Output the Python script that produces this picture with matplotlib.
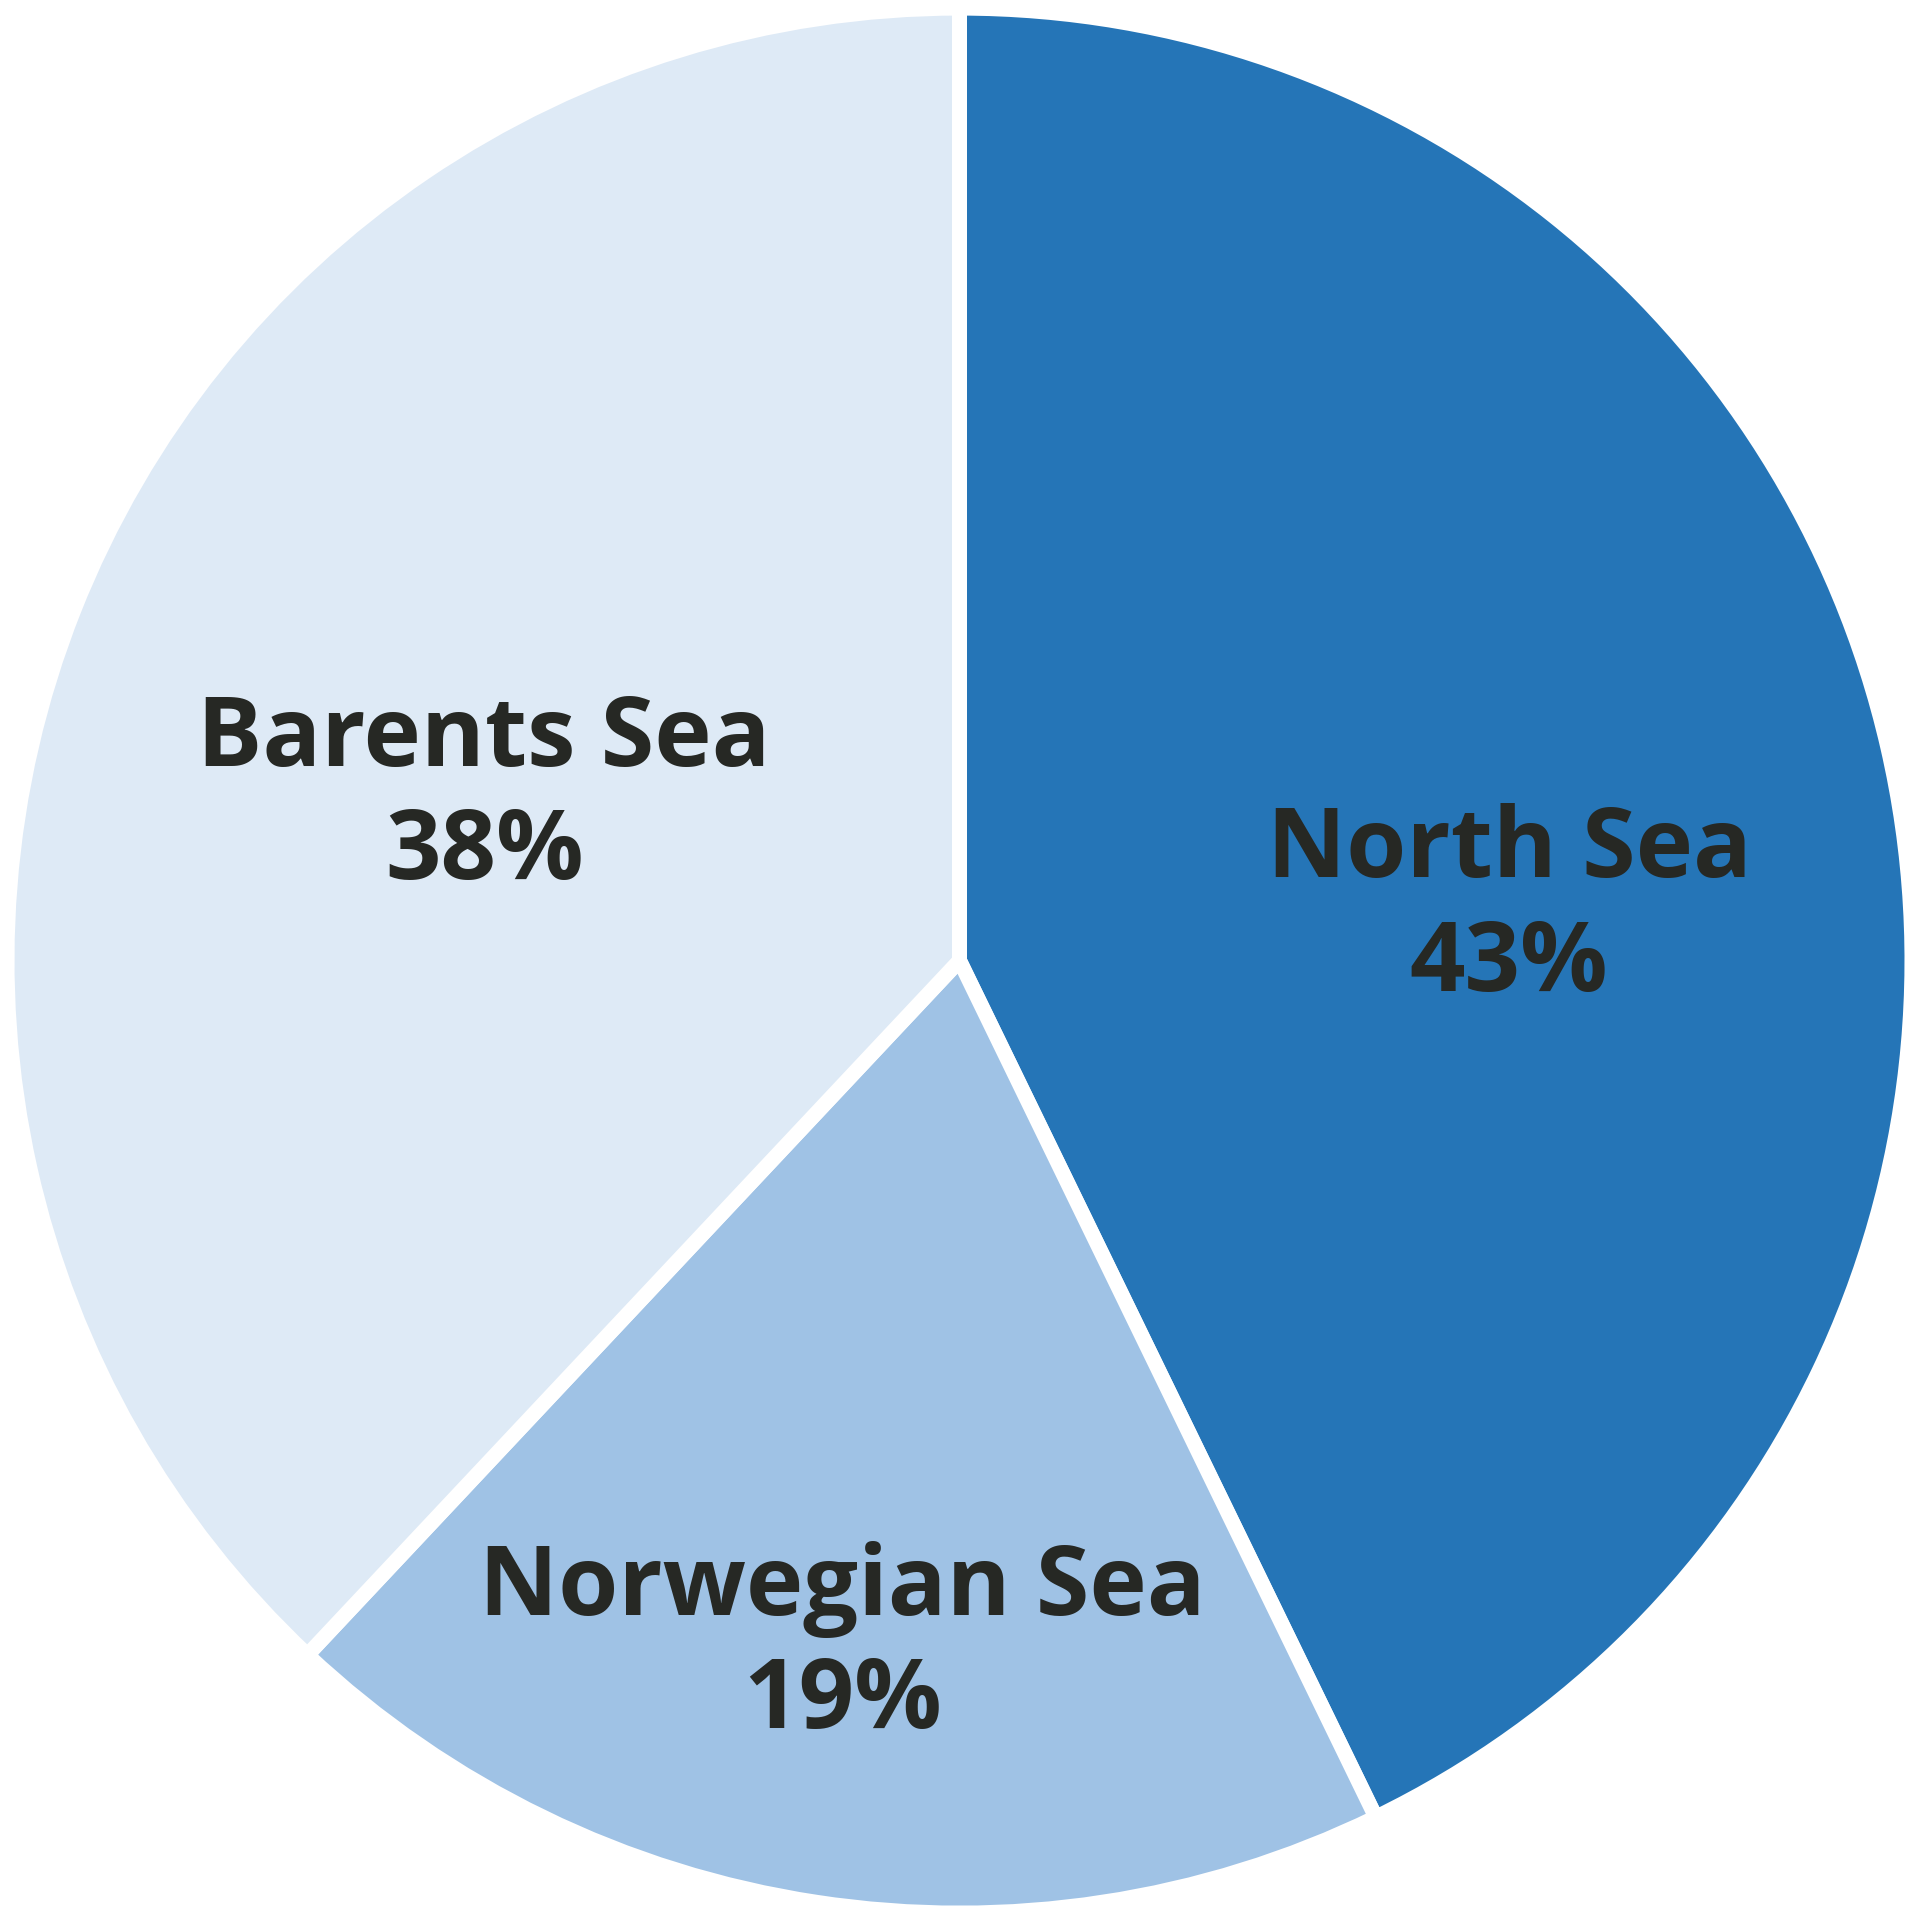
import matplotlib.pyplot as plt
import numpy as np

# data
seas = ["North Sea", "Norwegian Sea", "Barents Sea"]
shares = [42.8, 19.2, 38.0]
colors = ["#2575B7", "#9FC2E5", "#DEEAF6"]

# baseline anchor (last line) of each label, in data units (pie radius = 1)
label_pos = [(0.577, -0.0315), (-0.123, -0.806), (-0.499, 0.0857)]

fig = plt.figure(figsize=(19.2, 19.22), dpi=100)
ax = fig.add_axes([0, 0, 1, 1])

R = 952.5  # pixels per unit radius
ax.pie(shares, colors=colors, startangle=90, counterclock=False,
       wedgeprops=dict(edgecolor="white", linewidth=10.8),
       radius=1.0)
ax.set_xlim(-959.5 / R, 960.5 / R)
ax.set_ylim(-961.4 / R, 960.6 / R)
ax.set_aspect("auto")
ax.axis("off")

for name, val, (x, y) in zip(seas, shares, label_pos):
    ax.text(x, y, "%s\n%.0f%%" % (name, val), ha="center", va="baseline",
            fontsize=70, fontweight="bold", family="Open Sans",
            color="#262824", linespacing=1.22, multialignment="center")

fig.savefig("out.png", dpi=100, facecolor="white")
